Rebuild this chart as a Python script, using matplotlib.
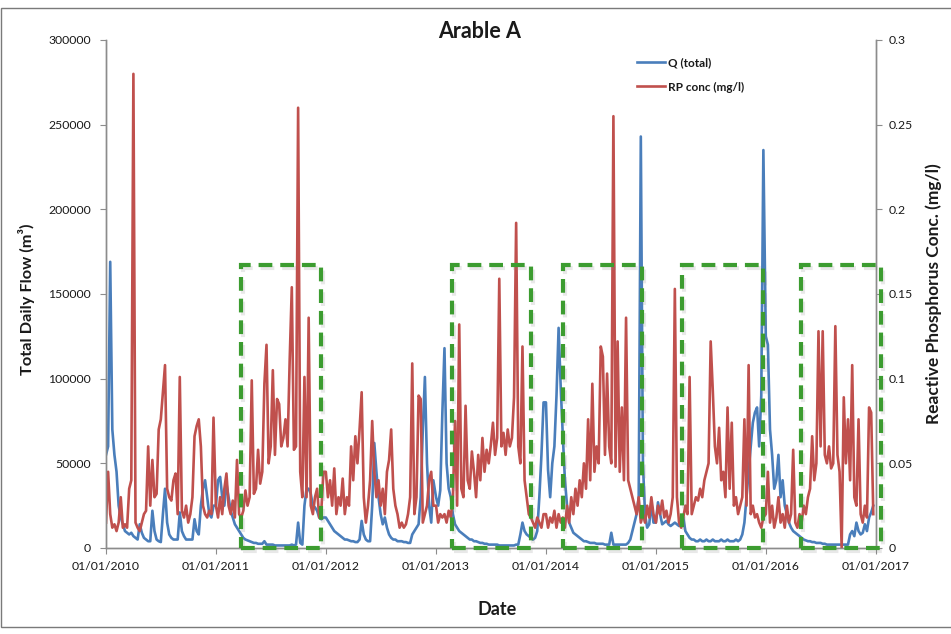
import numpy as np
import pandas as pd
import matplotlib
matplotlib.use("Agg")
import matplotlib.pyplot as plt
import matplotlib.dates as mdates
import matplotlib.ticker as mticker
from matplotlib.patches import Rectangle
import matplotlib.patheffects as pe

plt.rcParams['font.family'] = ['Lato', 'DejaVu Sans']
NARROW = ['Liberation Sans Narrow', 'DejaVu Sans Condensed', 'Lato', 'DejaVu Sans']

# ---------------- data (weekly readings) ----------------
YEARS = [2010, 2011, 2012, 2013, 2014, 2015, 2016]

# Q (total), thousands of m3, one value per week
Q_2010 = [55,60,169,70,55,45,25,18,14,10,9,8,9,7,6,5,14,9,6,5,4,4,22,10,5,4,3.5,20,35,15,8,6,5,5,5,21,10,7,5,5,5,5,17,10,8,25,35,40,30,20,18,25]
Q_2011 = [25,40,42,30,25,38,30,22,18,14,12,10,8,6,5,4.5,4,3.5,3,3,2.5,2.5,2.5,4,2,2,2,2,1.5,1.5,1.5,1.5,1.5,1.5,1.5,1.5,2,1.5,2,15,3,2,25,35,35,32,25,24,22,18,17,18]
Q_2012 = [18,16,14,12,10,9,8,7,6,5,5,4.5,4,4,3.5,3.5,5,16,8,5,4,4,25,62,45,30,20,14,18,12,8,6,5,5,4,4,4,3.5,3.5,3,3,8,10,12,14,30,70,101,50,25,15,40]
Q_2013 = [30,25,34,80,118,50,35,30,20,14,12,10,9,8,7,6,5,5,4,4,3.5,3,3,2.5,2.5,2,2,2,2,2,1.5,1.5,1.5,1.5,1.5,1.5,1.5,1.5,2,2,8,15,10,8,7,6,5,6,10,30,55,86]
Q_2014 = [86,46,30,50,60,90,130,95,66,40,25,15,12,9,8,7,6,5,4,4,3.5,3,3,3,2.5,2.5,2.5,2.5,2,2,2,9,2,2,2,2,2,2,2,3,5,10,15,20,30,243,50,20,12,14,27,15]
Q_2015 = [15,27,20,14,15,16,14,13,14,15,14,13,15,18,10,8,6,5,5,4,4,5,4,4,5,4,4,5,4,4,4,5,4,4,5,4,4,4,5,4,5,8,15,30,45,60,74,80,83,60,90,235]
Q_2016 = [125,120,70,55,35,40,55,30,40,25,20,15,12,10,9,8,7,6,5,4.5,4,4,3.5,3.5,3,3,3,2.5,2.5,2,2,2,2,2,2,2,2,2,2,2,8,10,7,15,10,8,9,14,10,18,21,25]

# RP conc (mg/l), one value per week
RP_2010 = [0.015,0.045,0.020,0.012,0.014,0.010,0.015,0.030,0.012,0.014,0.012,0.035,0.040,0.280,0.015,0.012,0.010,0.015,0.020,0.022,0.060,0.025,0.052,0.030,0.032,0.070,0.076,0.092,0.108,0.035,0.030,0.028,0.040,0.044,0.020,0.101,0.022,0.018,0.025,0.015,0.020,0.030,0.066,0.072,0.076,0.060,0.025,0.020,0.018,0.022,0.020,0.077]
RP_2011 = [0.025,0.018,0.030,0.020,0.035,0.044,0.025,0.020,0.028,0.018,0.052,0.020,0.018,0.022,0.034,0.025,0.030,0.099,0.032,0.035,0.058,0.038,0.045,0.097,0.120,0.050,0.060,0.105,0.055,0.088,0.085,0.060,0.065,0.076,0.060,0.111,0.154,0.058,0.060,0.260,0.045,0.030,0.101,0.030,0.136,0.025,0.020,0.030,0.035,0.018,0.022,0.045]
RP_2012 = [0.045,0.030,0.040,0.025,0.047,0.020,0.030,0.025,0.041,0.020,0.030,0.025,0.060,0.040,0.066,0.050,0.070,0.092,0.030,0.015,0.025,0.040,0.075,0.045,0.030,0.040,0.025,0.035,0.020,0.045,0.052,0.070,0.035,0.025,0.020,0.012,0.015,0.012,0.014,0.020,0.030,0.109,0.020,0.030,0.090,0.088,0.015,0.020,0.025,0.040,0.045,0.025]
RP_2013 = [0.025,0.015,0.020,0.018,0.020,0.015,0.022,0.018,0.030,0.075,0.025,0.132,0.035,0.030,0.084,0.040,0.035,0.057,0.045,0.030,0.055,0.040,0.065,0.045,0.058,0.050,0.061,0.074,0.055,0.065,0.159,0.060,0.068,0.055,0.070,0.060,0.065,0.089,0.192,0.060,0.050,0.119,0.040,0.030,0.020,0.018,0.015,0.012,0.018,0.015,0.012,0.020]
RP_2014 = [0.020,0.012,0.018,0.015,0.022,0.012,0.020,0.015,0.018,0.012,0.025,0.015,0.030,0.020,0.035,0.025,0.040,0.030,0.050,0.035,0.076,0.040,0.097,0.045,0.060,0.050,0.119,0.113,0.055,0.103,0.060,0.050,0.255,0.048,0.122,0.045,0.083,0.040,0.136,0.040,0.035,0.030,0.025,0.020,0.030,0.015,0.020,0.015,0.025,0.018,0.030,0.020]
RP_2015 = [0.015,0.025,0.020,0.028,0.018,0.022,0.015,0.020,0.030,0.153,0.030,0.015,0.012,0.018,0.025,0.020,0.101,0.020,0.025,0.030,0.028,0.035,0.030,0.040,0.045,0.050,0.122,0.093,0.060,0.050,0.071,0.040,0.045,0.030,0.083,0.035,0.074,0.025,0.030,0.020,0.025,0.030,0.076,0.025,0.108,0.020,0.025,0.018,0.020,0.015,0.012,0.018]
RP_2016 = [0.020,0.045,0.015,0.025,0.012,0.018,0.030,0.015,0.020,0.012,0.025,0.015,0.020,0.058,0.015,0.012,0.020,0.015,0.025,0.020,0.030,0.035,0.066,0.040,0.050,0.128,0.060,0.128,0.055,0.050,0.060,0.047,0.050,0.131,0.055,0.045,0.000,0.089,0.050,0.076,0.040,0.108,0.030,0.025,0.076,0.020,0.015,0.025,0.018,0.083,0.080,0.020]

# highlighted periods (green dashed boxes)
BOX_START = ["2011-03-26", "2013-02-22", "2014-02-25", "2015-03-30", "2016-04-28"]
BOX_END = ["2011-12-16", "2013-11-13", "2014-11-17", "2015-12-22", "2017-01-16"]
BOX_TOP = 167000  # m3

X_TICKS = ["2010-01-01", "2011-01-01", "2012-01-01", "2013-01-01", "2014-01-01",
           "2015-01-01", "2016-01-01", "2017-01-01"]

# ---------------- assemble ----------------
Q_YEARS = [Q_2010, Q_2011, Q_2012, Q_2013, Q_2014, Q_2015, Q_2016]
RP_YEARS = [RP_2010, RP_2011, RP_2012, RP_2013, RP_2014, RP_2015, RP_2016]

dates, q, rp = [], [], []
for yr, qv, rv in zip(YEARS, Q_YEARS, RP_YEARS):
    d = pd.Timestamp(f"{yr}-01-01") + pd.to_timedelta(np.arange(len(qv)) * 7, unit="D")
    dates.extend(d)
    q.extend(np.array(qv) * 1000.0)
    rp.extend(rv)
dates = pd.to_datetime(dates)

# ---------------- figure ----------------
W, H = 951, 634
fig = plt.figure(figsize=(W / 100, H / 100), dpi=100)
fig.patch.set_facecolor("white")

L, R, T, B = 106, 876, 40, 548
ax = fig.add_axes([L / W, 1 - B / H, (R - L) / W, (B - T) / H])
ax2 = ax.twinx()

BLUE = "#4a7ebb"
RED = "#c0504d"
GREEN = "#3c9c30"
GRAY = "#8c8c8c"
TXT = "#1a1a1a"

ax.plot(dates, q, color=BLUE, lw=1.9, solid_joinstyle="round", label="Q (total)")
ax2.plot(dates, rp, color=RED, lw=1.9, solid_joinstyle="round", label="RP conc (mg/l)")

# green dashed boxes
for s, e in zip(BOX_START, BOX_END):
    x0 = mdates.date2num(pd.Timestamp(s))
    x1 = mdates.date2num(pd.Timestamp(e))
    rect = Rectangle((x0, 0), x1 - x0, BOX_TOP, transform=ax.transData,
                     fill=False, edgecolor=GREEN, lw=3.0, linestyle=(0, (3.3, 1.9)),
                     clip_on=False, zorder=5,
                     path_effects=[pe.SimpleLineShadow(offset=(1.5, -2), shadow_color="gray", alpha=0.18),
                                   pe.Normal()])
    ax2.add_patch(rect)

ax.set_xlim(pd.Timestamp(X_TICKS[0]), pd.Timestamp(X_TICKS[-1]))
ax.set_ylim(0, 300000)
ax2.set_ylim(0, 0.3)

ax.set_xticks(pd.to_datetime(X_TICKS))
ax.xaxis.set_major_formatter(mdates.DateFormatter("%d/%m/%Y"))
ax.set_yticks(np.arange(0, 300001, 50000))
ax.yaxis.set_major_formatter(mticker.FuncFormatter(lambda v, p: f"{int(v)}"))
ax2.set_yticks(np.arange(0, 0.3001, 0.05))
ax2.yaxis.set_major_formatter(mticker.FuncFormatter(lambda v, p: "0" if v == 0 else f"{v:.2f}".rstrip("0")))

for a in (ax, ax2):
    a.spines["top"].set_visible(False)
    for s in ("left", "right", "bottom"):
        a.spines[s].set_color(GRAY)
        a.spines[s].set_linewidth(1.0)
    a.tick_params(axis="both", colors=GRAY, labelcolor=TXT, labelsize=8.8,
                  length=4, width=0.8, direction="out")
ax.tick_params(axis="y", pad=7)
ax2.tick_params(axis="y", pad=5)
ax.tick_params(axis="x", pad=5)
ax2.patch.set_visible(False)

ax.set_ylabel("Total Daily Flow (m³)", fontsize=11.8, fontweight="bold", color=TXT,
              family=NARROW)
ax.yaxis.set_label_coords(-0.092, 0.49)
ax2.set_ylabel("Reactive Phosphorus Conc. (mg/l)", fontsize=12.5, fontweight="bold",
               color=TXT, rotation=90)
ax2.yaxis.set_label_coords(1.064, 0.5)
ax.set_xlabel("Date", fontsize=13, fontweight="bold", color=TXT)
ax.xaxis.set_label_coords(0.508, -0.104)

fig.text(480 / W, 1 - 32 / H, "Arable A", ha="center", va="center",
         fontsize=15.5, fontweight="bold", color=TXT)

h1, l1 = ax.get_legend_handles_labels()
h2, l2 = ax2.get_legend_handles_labels()
leg = ax2.legend(h1 + h2, l1 + l2, loc="upper left",
                 bbox_to_anchor=(637 / W, 1 - 57 / H), bbox_transform=fig.transFigure,
                 frameon=False, borderpad=0, borderaxespad=0, handlelength=2.4,
                 handletextpad=0.2, labelspacing=1.15,
                 prop={"size": 8.5, "weight": "bold"})
for t in leg.get_texts():
    t.set_color(TXT)

# outer chart-area border
fig.add_artist(Rectangle((1 / W, 1 - 627 / H), 1.0, (627 - 8) / H, transform=fig.transFigure,
                         fill=False, edgecolor="#7a7a7a", lw=1.0))

fig.savefig("out.png", dpi=100, facecolor="white")
